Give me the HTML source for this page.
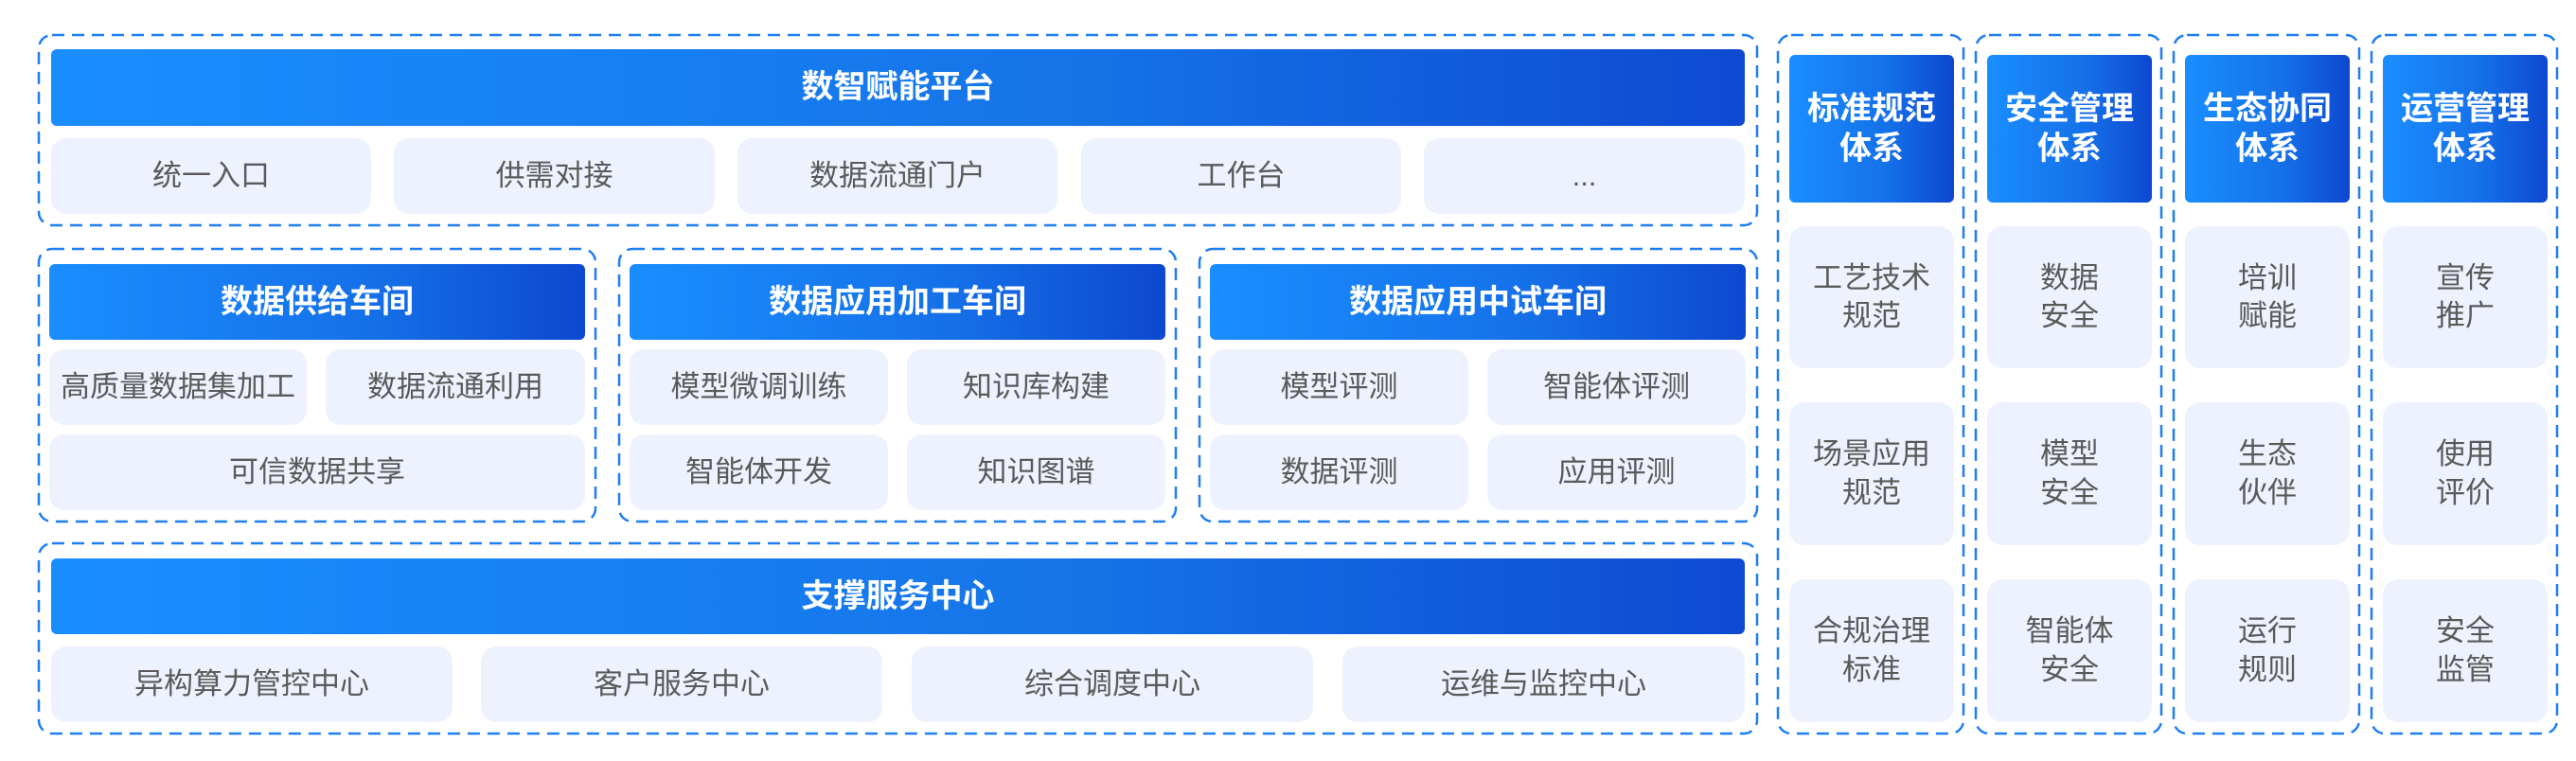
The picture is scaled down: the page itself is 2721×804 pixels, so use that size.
<!DOCTYPE html>
<html><head><meta charset="utf-8"><style>
*{margin:0;padding:0;box-sizing:border-box}
body{width:2721px;height:804px;background:#fff;position:relative;overflow:hidden;font-family:"Liberation Sans","Noto Sans CJK SC",sans-serif}
svg.b{position:absolute;left:0;top:0}
.ban{position:absolute;border-radius:6px;background:linear-gradient(90deg,#1a8eff,#1570e8 60%,#0d48d0);color:#fff;font-weight:bold;font-size:34px;display:flex;align-items:center;justify-content:center;text-align:center;line-height:1.25}
.wide{background:linear-gradient(90deg,#1a8eff,#1574e8 60%,#0e4ad2)}
.it{position:absolute;border-radius:16px;background:#eef2fe;color:#5a5a5a;font-size:31px;display:flex;align-items:center;justify-content:center;text-align:center;line-height:1.3}
</style></head><body>
<svg class="b" width="2721" height="804" fill="none" stroke="#1f7ef0" stroke-width="2.5" stroke-dasharray="13 8">
<rect x="41" y="37" width="1815" height="201" rx="14"/>
<rect x="41" y="263" width="588" height="288" rx="14"/>
<rect x="654" y="263" width="588" height="288" rx="14"/>
<rect x="1267" y="263" width="589" height="288" rx="14"/>
<rect x="41" y="574" width="1815" height="201" rx="14"/>
<rect x="1878" y="37" width="196" height="738" rx="14"/>
<rect x="2087" y="37" width="196" height="738" rx="14"/>
<rect x="2296" y="37" width="196" height="738" rx="14"/>
<rect x="2505" y="37" width="196" height="738" rx="14"/>
</svg>
<!-- top -->
<div class="ban wide" style="left:54px;top:52px;width:1789px;height:81px">数智赋能平台</div>
<div class="it" style="left:54px;top:146px;width:338px;height:80px">统一入口</div>
<div class="it" style="left:416px;top:146px;width:339px;height:80px">供需对接</div>
<div class="it" style="left:779px;top:146px;width:338px;height:80px">数据流通门户</div>
<div class="it" style="left:1142px;top:146px;width:338px;height:80px">工作台</div>
<div class="it" style="left:1504px;top:146px;width:339px;height:80px">...</div>
<!-- row2 -->
<div class="ban" style="left:52px;top:279px;width:566px;height:80px">数据供给车间</div>
<div class="it" style="left:52px;top:369px;width:272px;height:80px">高质量数据集加工</div>
<div class="it" style="left:344px;top:369px;width:274px;height:80px">数据流通利用</div>
<div class="it" style="left:52px;top:459px;width:566px;height:80px">可信数据共享</div>

<div class="ban" style="left:665px;top:279px;width:566px;height:80px">数据应用加工车间</div>
<div class="it" style="left:665px;top:369px;width:273px;height:80px">模型微调训练</div>
<div class="it" style="left:958px;top:369px;width:273px;height:80px">知识库构建</div>
<div class="it" style="left:665px;top:459px;width:273px;height:80px">智能体开发</div>
<div class="it" style="left:958px;top:459px;width:273px;height:80px">知识图谱</div>

<div class="ban" style="left:1278px;top:279px;width:566px;height:80px">数据应用中试车间</div>
<div class="it" style="left:1278px;top:369px;width:273px;height:80px">模型评测</div>
<div class="it" style="left:1571px;top:369px;width:273px;height:80px">智能体评测</div>
<div class="it" style="left:1278px;top:459px;width:273px;height:80px">数据评测</div>
<div class="it" style="left:1571px;top:459px;width:273px;height:80px">应用评测</div>
<!-- row3 -->
<div class="ban wide" style="left:54px;top:590px;width:1789px;height:80px">支撑服务中心</div>
<div class="it" style="left:54px;top:683px;width:424px;height:80px">异构算力管控中心</div>
<div class="it" style="left:508px;top:683px;width:424px;height:80px">客户服务中心</div>
<div class="it" style="left:963px;top:683px;width:424px;height:80px">综合调度中心</div>
<div class="it" style="left:1418px;top:683px;width:425px;height:80px">运维与监控中心</div>
<!-- right columns -->
<div class="ban" style="left:1890px;top:58px;width:174px;height:156px">标准规范<br>体系</div>
<div class="it" style="left:1890px;top:239px;width:174px;height:150px">工艺技术<br>规范</div>
<div class="it" style="left:1890px;top:425px;width:174px;height:151px">场景应用<br>规范</div>
<div class="it" style="left:1890px;top:612px;width:174px;height:151px">合规治理<br>标准</div>

<div class="ban" style="left:2099px;top:58px;width:174px;height:156px">安全管理<br>体系</div>
<div class="it" style="left:2099px;top:239px;width:174px;height:150px">数据<br>安全</div>
<div class="it" style="left:2099px;top:425px;width:174px;height:151px">模型<br>安全</div>
<div class="it" style="left:2099px;top:612px;width:174px;height:151px">智能体<br>安全</div>

<div class="ban" style="left:2308px;top:58px;width:174px;height:156px">生态协同<br>体系</div>
<div class="it" style="left:2308px;top:239px;width:174px;height:150px">培训<br>赋能</div>
<div class="it" style="left:2308px;top:425px;width:174px;height:151px">生态<br>伙伴</div>
<div class="it" style="left:2308px;top:612px;width:174px;height:151px">运行<br>规则</div>

<div class="ban" style="left:2517px;top:58px;width:174px;height:156px">运营管理<br>体系</div>
<div class="it" style="left:2517px;top:239px;width:174px;height:150px">宣传<br>推广</div>
<div class="it" style="left:2517px;top:425px;width:174px;height:151px">使用<br>评价</div>
<div class="it" style="left:2517px;top:612px;width:174px;height:151px">安全<br>监管</div>
</body></html>
